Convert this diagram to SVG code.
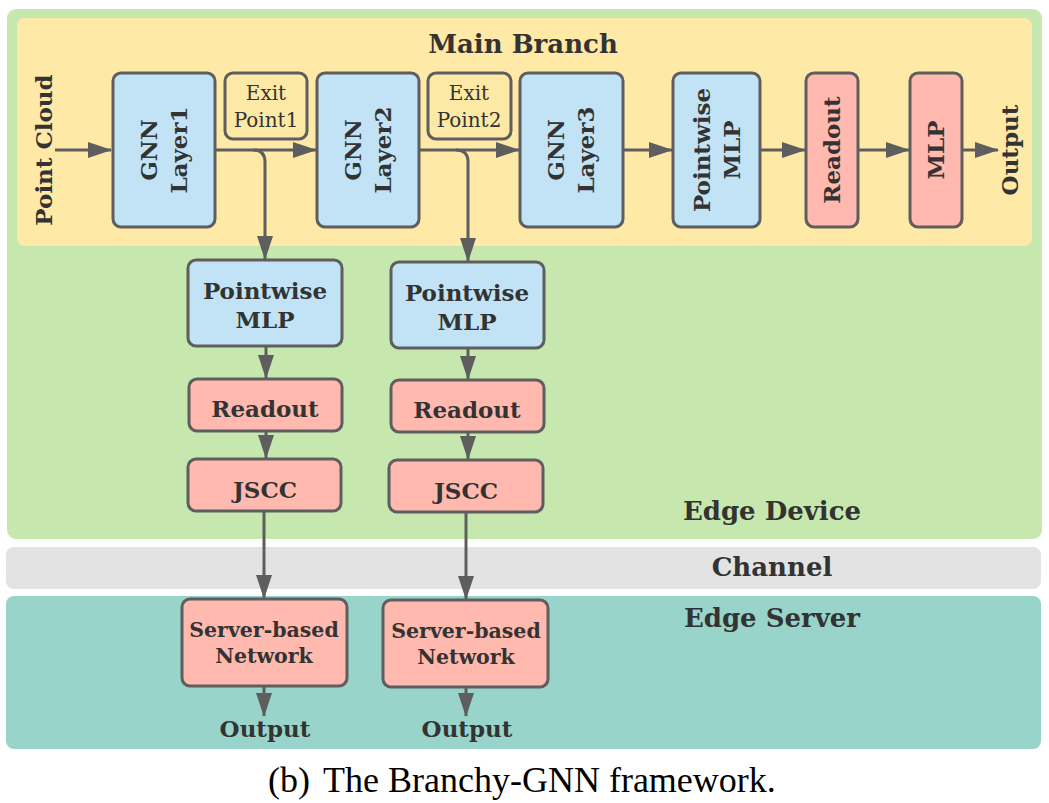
<svg xmlns="http://www.w3.org/2000/svg" width="1049" height="803" viewBox="0 0 1049 803">
<style>
.t{font-family:"DejaVu Serif","Liberation Serif",serif;font-weight:bold;fill:#333333;text-anchor:middle}
.r{font-family:"DejaVu Serif","Liberation Serif",serif;fill:#333333;text-anchor:middle}
.blue{fill:#c1e3f5;stroke:#5e5e5e;stroke-width:3}
.pink{fill:#ffb9ae;stroke:#5e5e5e;stroke-width:3}
.exit{fill:#fde9a6;stroke:#5e5e5e;stroke-width:3}
.c{fill:none;stroke:#5e5e5e;stroke-width:3}
</style>
<defs>
<marker id="ah" markerUnits="userSpaceOnUse" markerWidth="24" markerHeight="16" refX="23" refY="8" orient="auto">
<path d="M0,0 L24,8 L0,16 z" fill="#5e5e5e"/>
</marker>
</defs>
<rect width="1049" height="803" fill="#ffffff"/>
<g id="regions">
<rect x="7" y="9" width="1035" height="530" rx="9" fill="#c6e7ae"/>
<rect x="17" y="18" width="1015" height="228" rx="8" fill="#fee9a6"/>
<rect x="6" y="547" width="1035" height="42" rx="8" fill="#e3e3e3"/>
<rect x="6" y="596" width="1035" height="153" rx="8" fill="#99d4ca"/>
<text class="t" x="523" y="53" font-size="26">Main Branch</text>
<text class="t" x="772" y="520" font-size="26">Edge Device</text>
<text class="t" x="772" y="576" font-size="26">Channel</text>
<text class="t" x="772" y="627" font-size="26">Edge Server</text>
<text class="t" font-size="23" transform="translate(52,150) rotate(-90)">Point Cloud</text>
<text class="t" font-size="23" transform="translate(1018,150) rotate(-90)">Output</text>
</g>
<g id="connectors">
<path class="c" d="M55,150 H111" marker-end="url(#ah)"/>
<path class="c" d="M215,150 H316" marker-end="url(#ah)"/>
<path class="c" d="M253,150 Q265,150 265,162 V259" marker-end="url(#ah)"/>
<path class="c" d="M419,150 H519" marker-end="url(#ah)"/>
<path class="c" d="M456,150 Q468,150 468,162 V261" marker-end="url(#ah)"/>
<path class="c" d="M623,150 H672" marker-end="url(#ah)"/>
<path class="c" d="M760,150 H805" marker-end="url(#ah)"/>
<path class="c" d="M858,150 H909" marker-end="url(#ah)"/>
<path class="c" d="M962,150 H998" marker-end="url(#ah)"/>
<path class="c" d="M266,346 V378" marker-end="url(#ah)"/>
<path class="c" d="M266,431 V458" marker-end="url(#ah)"/>
<path class="c" d="M468,348 V379" marker-end="url(#ah)"/>
<path class="c" d="M468,432 V459" marker-end="url(#ah)"/>
<path class="c" d="M264,511 V598" marker-end="url(#ah)"/>
<path class="c" d="M466,512 V599" marker-end="url(#ah)"/>
<path class="c" d="M264,686 V716" marker-end="url(#ah)"/>
<path class="c" d="M466,687 V716" marker-end="url(#ah)"/>
</g>
<g id="gnn1"><rect class="blue" x="113" y="73" width="102" height="154" rx="8"/>
<text class="t" font-size="23" transform="translate(164,150) rotate(-90)"><tspan x="0" y="-7">GNN</tspan><tspan x="0" y="23">Layer1</tspan></text></g>
<g id="exit1"><rect class="exit" x="225" y="73" width="82" height="66" rx="8"/>
<text class="r" font-size="20"><tspan x="266" y="100">Exit</tspan><tspan x="266" y="127">Point1</tspan></text></g>
<g id="gnn2"><rect class="blue" x="317" y="73" width="102" height="154" rx="8"/>
<text class="t" font-size="23" transform="translate(368,150) rotate(-90)"><tspan x="0" y="-7">GNN</tspan><tspan x="0" y="23">Layer2</tspan></text></g>
<g id="exit2"><rect class="exit" x="428" y="73" width="83" height="66" rx="8"/>
<text class="r" font-size="20"><tspan x="469" y="100">Exit</tspan><tspan x="469" y="127">Point2</tspan></text></g>
<g id="gnn3"><rect class="blue" x="520" y="73" width="103" height="154" rx="8"/>
<text class="t" font-size="23" transform="translate(571,150) rotate(-90)"><tspan x="0" y="-7">GNN</tspan><tspan x="0" y="23">Layer3</tspan></text></g>
<g id="pmlp"><rect class="blue" x="673" y="73" width="87" height="154" rx="8"/>
<text class="t" font-size="23" transform="translate(717,150) rotate(-90)"><tspan x="0" y="-7">Pointwise</tspan><tspan x="0" y="23">MLP</tspan></text></g>
<g id="readout"><rect class="pink" x="806" y="73" width="52" height="154" rx="8"/>
<text class="t" font-size="23" transform="translate(840,150) rotate(-90)">Readout</text></g>
<g id="mlp"><rect class="pink" x="910" y="73" width="52" height="154" rx="8"/>
<text class="t" font-size="23" transform="translate(944,150) rotate(-90)">MLP</text></g>
<g id="b1pmlp"><rect class="blue" x="188" y="260" width="154" height="86" rx="8"/>
<text class="t" font-size="23"><tspan x="265" y="299">Pointwise</tspan><tspan x="265" y="328">MLP</tspan></text></g>
<g id="b1readout"><rect class="pink" x="189" y="379" width="153" height="52" rx="8"/>
<text class="t" font-size="23" x="265" y="417">Readout</text></g>
<g id="b1jscc"><rect class="pink" x="188" y="459" width="153" height="52" rx="8"/>
<text class="t" font-size="23" x="265" y="498">JSCC</text></g>
<g id="b2pmlp"><rect class="blue" x="391" y="262" width="153" height="86" rx="8"/>
<text class="t" font-size="23"><tspan x="467" y="301">Pointwise</tspan><tspan x="467" y="330">MLP</tspan></text></g>
<g id="b2readout"><rect class="pink" x="391" y="380" width="153" height="52" rx="8"/>
<text class="t" font-size="23" x="467" y="418">Readout</text></g>
<g id="b2jscc"><rect class="pink" x="389" y="460" width="154" height="52" rx="8"/>
<text class="t" font-size="23" x="466" y="499">JSCC</text></g>
<g id="server1"><rect class="pink" x="182" y="599" width="165" height="87" rx="8"/>
<text class="t" font-size="20.5"><tspan x="264" y="637">Server-based</tspan><tspan x="264" y="663">Network</tspan></text>
<text class="t" font-size="23" x="265" y="737">Output</text></g>
<g id="server2"><rect class="pink" x="383" y="600" width="165" height="87" rx="8"/>
<text class="t" font-size="20.5"><tspan x="466" y="638">Server-based</tspan><tspan x="466" y="664">Network</tspan></text>
<text class="t" font-size="23" x="467" y="737">Output</text></g>
<g id="caption">
<text font-family="Liberation Serif, serif" font-size="36" fill="#000" x="268" y="792">(b)</text>
<text font-family="Liberation Serif, serif" font-size="36" fill="#000" x="323" y="792">The Branchy-GNN framework.</text>
</g>
</svg>
